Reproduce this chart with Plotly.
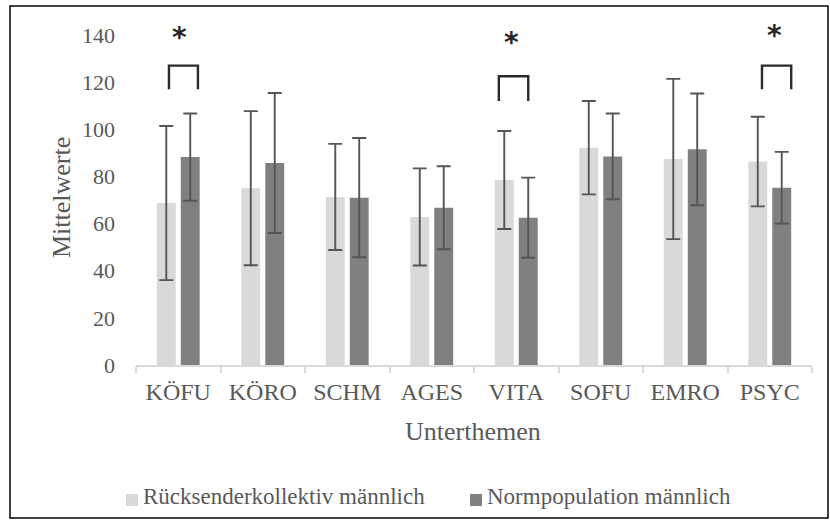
import plotly.graph_objects as go

# Subscale means and standard deviations (male respondents vs. male norm population)
categories = ["KÖFU", "KÖRO", "SCHM", "AGES", "VITA", "SOFU", "EMRO", "PSYC"]
series_names = ["Rücksenderkollektiv männlich", "Normpopulation männlich"]
rueck_mean = [68.7, 75.0, 71.3, 62.8, 78.5, 92.2, 87.4, 86.3]
rueck_sd = [32.7, 32.7, 22.5, 20.6, 20.8, 19.8, 34.0, 19.0]
norm_mean = [88.2, 85.7, 71.0, 66.7, 62.5, 88.5, 91.5, 75.2]
norm_sd = [18.5, 29.7, 25.3, 17.6, 17.0, 18.2, 23.7, 15.2]
y_ticks = [0, 20, 40, 60, 80, 100, 120, 140]

# Significant differences: category, bracket foot, bracket top
sig_categories = ["KÖFU", "VITA", "PSYC"]
sig_low = [117, 112, 117]
sig_high = [127, 122.5, 127]

W, H = 830, 531
PL, PR, PT, PB = 136, 812, 35, 365  # plot area in px
TXT = "#595959"
FONT = "Liberation Serif"
COLORS = ["#D9D9D9", "#808080"]


def px_to_paper_x(px):
    return (px - PL) / (PR - PL)


def px_to_paper_y(py):
    return (PB - py) / (PB - PT)


err_style = dict(type="data", color="#555555", thickness=1.9, width=7, visible=True)

fig = go.Figure()
for name, means, sds, col in zip(series_names, [rueck_mean, norm_mean],
                                 [rueck_sd, norm_sd], COLORS):
    fig.add_trace(go.Bar(
        x=categories, y=means, name=name, showlegend=False,
        marker=dict(color=col, line=dict(width=0)),
        error_y=dict(array=sds, **err_style),
    ))

shapes = []
annotations = []

# brackets and asterisks above significant pairs
bracket_offsets = {"KÖFU": (-0.11, 0.233, 0.02), "VITA": (-0.206, 0.142, -0.052),
                   "PSYC": (-0.092, 0.254, 0.053)}
star_levels = {"KÖFU": 139, "VITA": 137, "PSYC": 140}
for cat, lo, hi in zip(sig_categories, sig_low, sig_high):
    i = categories.index(cat)
    a, b, s = bracket_offsets[cat]
    shapes.append(dict(
        type="path", xref="x", yref="y",
        path=f"M {i + a},{lo} L {i + a},{hi} L {i + b},{hi} L {i + b},{lo}",
        line=dict(color="#2b2b2b", width=2.4),
    ))
    annotations.append(dict(
        x=i + s, y=star_levels[cat], xref="x", yref="y", text="<b>*</b>",
        showarrow=False, font=dict(family="DejaVu Sans", size=28, color="#262626"),
        yanchor="middle",
    ))

# outer chart frame
shapes.append(dict(
    type="rect", xref="paper", yref="paper",
    x0=px_to_paper_x(10), x1=px_to_paper_x(828),
    y0=px_to_paper_y(518), y1=px_to_paper_y(6),
    line=dict(color="#000000", width=1.5), fillcolor="rgba(0,0,0,0)",
))

# legend: square swatch followed by series name
legend_x = [126, 470]
for name, col, lx in zip(series_names, COLORS, legend_x):
    shapes.append(dict(
        type="rect", xref="paper", yref="paper",
        x0=px_to_paper_x(lx), x1=px_to_paper_x(lx + 12),
        y0=px_to_paper_y(506), y1=px_to_paper_y(494),
        line=dict(width=0), fillcolor=col,
    ))
    annotations.append(dict(
        x=px_to_paper_x(lx + 15), y=px_to_paper_y(497), xref="paper", yref="paper",
        text=name, showarrow=False, xanchor="left", yanchor="middle",
        font=dict(family=FONT, size=23, color=TXT),
    ))

annotations.append(dict(
    x=px_to_paper_x(473), y=px_to_paper_y(431), xref="paper", yref="paper", text="Unterthemen",
    showarrow=False, font=dict(family=FONT, size=26, color=TXT), yanchor="middle",
))
annotations.append(dict(
    x=px_to_paper_x(61), y=px_to_paper_y(198), xref="paper", yref="paper", text="Mittelwerte",
    textangle=-90, showarrow=False, font=dict(family=FONT, size=26, color=TXT),
    xanchor="center", yanchor="middle",
))

fig.update_layout(
    width=W, height=H,
    margin=dict(l=PL, r=W - PR, t=PT, b=H - PB, pad=0),
    paper_bgcolor="white", plot_bgcolor="white",
    barmode="group", bargap=0.433, bargroupgap=0.21,
    font=dict(family=FONT, color=TXT),
    showlegend=False,
    xaxis=dict(
        showline=True, linecolor="#D9D9D9", linewidth=1.5,
        ticks="outside", tickson="boundaries", ticklen=6, tickcolor="#D9D9D9", tickwidth=1.5,
        tickfont=dict(family=FONT, size=24, color=TXT), showgrid=False, ticklabelstandoff=4,
    ),
    yaxis=dict(
        range=[0, 140], tickvals=y_ticks, showgrid=False, zeroline=False, showline=False,
        tickfont=dict(family=FONT, size=22, color=TXT), ticks="", ticklabelstandoff=20,
    ),
    shapes=shapes, annotations=annotations,
)

fig.write_html("out.html")
